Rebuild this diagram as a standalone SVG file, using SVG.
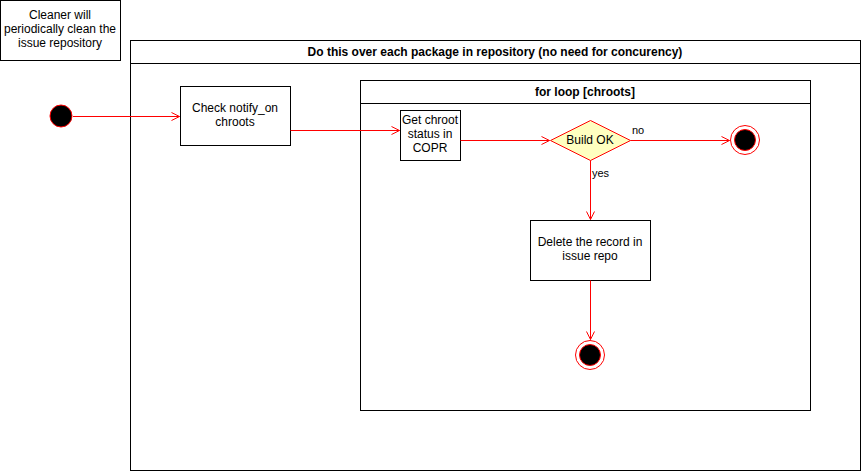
<svg xmlns="http://www.w3.org/2000/svg" width="861" height="471" viewBox="0 0 861 471">
<defs>
<marker id="open" viewBox="0 0 10 10" refX="9" refY="5" markerWidth="10" markerHeight="10" markerUnits="userSpaceOnUse" orient="auto">
<path d="M1,1 L9,5 L1,9" fill="none" stroke="#ff0000" stroke-width="1"/>
</marker>
<style>
text{font-family:"Liberation Sans",Arial,Helvetica,sans-serif;font-size:12px;fill:#000;text-anchor:middle}
.b{font-weight:bold}
.box{fill:#fff;stroke:#000;stroke-width:1}
.e{fill:none;stroke:#ff0000;stroke-width:1;marker-end:url(#open)}
.lbl{text-anchor:start;font-size:11px}
</style>
</defs>
<rect width="861" height="471" fill="#fff"/>
<g id="note">
<rect class="box" x="0.5" y="0.5" width="120" height="60"/>
<text x="60" y="19">Cleaner will</text>
<text x="60" y="33">periodically clean the</text>
<text x="60" y="47">issue repository</text>
</g>
<g id="outer">
<rect class="box" x="130.5" y="40.5" width="730" height="430"/>
<line x1="130.5" y1="63.5" x2="860.5" y2="63.5" stroke="#000"/>
<text class="b" x="495" y="56">Do this over each package in repository (no need for concurency)</text>
</g>
<g id="loop">
<rect class="box" x="360.5" y="80.5" width="450" height="330"/>
<line x1="360.5" y1="103.5" x2="810.5" y2="103.5" stroke="#000"/>
<text class="b" x="585" y="96">for loop [chroots]</text>
</g>
<g id="start">
<circle cx="61" cy="116" r="11" fill="#000" stroke="#ff0000"/>
</g>
<g id="check">
<rect class="box" x="180.5" y="86.5" width="110" height="59"/>
<text x="235" y="112">Check notify_on</text>
<text x="235" y="126">chroots</text>
</g>
<g id="getstatus">
<rect class="box" x="400.5" y="110.5" width="60" height="50"/>
<text x="430" y="124">Get chroot</text>
<text x="430" y="138">status in</text>
<text x="430" y="152">COPR</text>
</g>
<g id="decision">
<polygon points="590.5,120.5 630.5,140.5 590.5,160.5 550.5,140.5" fill="#ffffc0" stroke="#ff0000"/>
<text x="590" y="144">Build OK</text>
</g>
<g id="end1">
<circle cx="745" cy="140" r="14.5" fill="#fff" stroke="#ff0000"/>
<circle cx="745" cy="140" r="10.5" fill="#000" stroke="#ff0000"/>
</g>
<g id="delete">
<rect class="box" x="530.5" y="220.5" width="120" height="60"/>
<text x="590" y="246">Delete the record in</text>
<text x="590" y="260">issue repo</text>
</g>
<g id="end2">
<circle cx="590" cy="355" r="14.5" fill="#fff" stroke="#ff0000"/>
<circle cx="590" cy="355" r="10.5" fill="#000" stroke="#ff0000"/>
</g>
<g id="connectors">
<path class="e" d="M73,116.5 H179.5"/>
<path class="e" d="M290.5,130.5 H399.5"/>
<path class="e" d="M460.5,140.5 H549.5"/>
<path class="e" d="M630.5,140.5 H729.5"/>
<text class="lbl" x="632" y="134">no</text>
<path class="e" d="M590.5,160.5 V219.5"/>
<text class="lbl" x="592" y="177">yes</text>
<path class="e" d="M590.5,280.5 V339.5"/>
</g>
</svg>
